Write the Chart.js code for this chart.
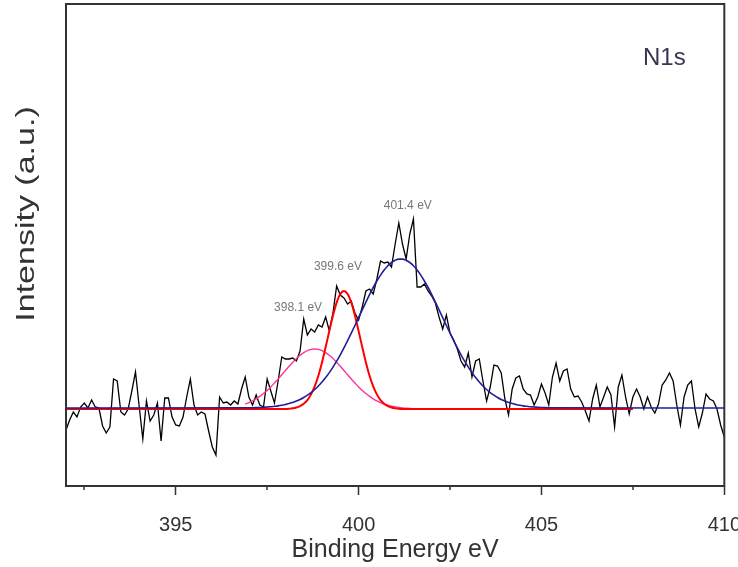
<!DOCTYPE html>
<html>
<head>
<meta charset="utf-8">
<script src="https://cdn.jsdelivr.net/npm/chart.js@4.4.0/dist/chart.umd.min.js"></script>
<style>
  body { margin: 0; background: #fff; width: 738px; height: 567px; overflow: hidden; }
  #wrap { width: 759px; height: 567px; }
</style>
</head>
<body>
<div id="wrap"><canvas id="n1s-chart"></canvas></div>
<script>
// measured N1s spectrum, one value every 0.1 eV from 392.0 to 410.0
var scanStart = 392.0;
var scanStep = 0.1;
var n1sCounts = [
    -21, -11, -3, -8, 2, 6, 1, 9, 2, 1,
    -17, -24, -18, 30, 28, -3, -6, 0, 18, 37,
    3, -30, 8, -12, -6, 6, -32, 11, 11, -8,
    -16, -17, -8, 12, 30, 4, -6, -3, -5, -22,
    -38, -46, 12, 6, 7, 4, 8, 5, 20, 32,
    12, 4, 14, 4, 2, 30, 18, 6, 28, 52,
    50, 50, 51, 48, 58, 90, 74, 80, 77, 84,
    82, 92, 78, 96, 123, 114, 111, 105, 108, 96,
    89, 102, 118, 120, 115, 130, 148, 146, 147, 142,
    165, 186, 165, 150, 175, 190, 122, 122, 125, 118,
    113, 106, 92, 80, 94, 76, 69, 60, 48, 42,
    56, 32, 48, 50, 28, 8, 22, 44, 43, 36,
    10, -6, 20, 31, 33, 20, 15, 14, 4, 12,
    25, 16, 4, 32, 46, 28, 38, 40, 20, 12,
    13, 7, -2, -12, 10, 24, 2, 12, 22, 14,
    -18, 22, 34, 12, -5, 12, 20, 12, 0, 12,
    2, -4, 5, 24, 29, 36, 28, 4, -16, 12,
    24, 28, 0, -18, -4, 15, 10, 8, 0, -16,
    -28
];

// fitted components: flat tail level over [from, to], peak part sampled every 0.1 eV
var peakA = { from: 396.9, to: 407.5, tail: 0, start: 396.9, values: [
    4.9, 6.4, 8.1, 10.2, 12.6, 15.5, 18.6, 22.1, 26.0, 30.0,
    34.3, 38.5, 42.8, 46.7, 50.5, 53.7, 56.4, 58.4, 59.6, 60.0,
    59.6, 58.4, 56.4, 53.7, 50.5, 46.7, 42.8, 38.5, 34.3, 30.0,
    26.0, 22.1, 18.6, 15.5, 12.6, 10.2, 8.1, 6.4, 4.9, 3.8,
    2.8, 2.1, 1.5, 1.1, 0.8, 0.5, 0.3, 0
] };
var peakB = { from: 392.0, to: 407.5, tail: 0, start: 398.0, values: [
    0.1, 0.3, 0.7, 1.5, 2.9, 5.2, 8.9, 14.6, 22.6, 33.3,
    46.6, 61.9, 78.1, 93.5, 106.4, 115.0, 118.0, 115.0, 106.4, 93.5,
    78.1, 61.9, 46.6, 33.3, 22.6, 14.6, 8.9, 5.2, 2.9, 1.5,
    0.7, 0.3, 0.1
] };
var peakC = { from: 392.0, to: 410.0, tail: 1, start: 397.0, values: [
    1.2, 1.3, 1.4, 1.5, 1.7, 2.0, 2.3, 2.7, 3.1, 3.7,
    4.5, 5.4, 6.6, 7.9, 9.5, 11.5, 13.8, 16.4, 19.5, 23.0,
    27.0, 31.4, 36.4, 41.9, 47.8, 54.2, 61.1, 68.3, 75.8, 83.5,
    91.4, 99.2, 106.9, 114.4, 121.5, 128.0, 133.9, 139.0, 143.3, 146.5,
    148.7, 149.9, 149.9, 148.7, 146.5, 143.3, 139.0, 133.9, 128.0, 121.5,
    114.4, 106.9, 99.2, 91.4, 83.5, 75.8, 68.3, 61.1, 54.2, 47.8,
    41.9, 36.4, 31.4, 27.0, 23.0, 19.5, 16.4, 13.8, 11.5, 9.5,
    7.9, 6.6, 5.4, 4.5, 3.7, 3.1, 2.7, 2.3, 2.0, 1.7,
    1.5, 1.4, 1.3, 1.2
] };

var peakPositions = [398.1, 399.6, 401.4];
var majorTicks = [395, 400, 405, 410];
var minorTicks = [392.5, 397.5, 402.5, 407.5];

var fontFamily = "'Liberation Sans', Arial, sans-serif";


function energyAt(start, i) {
    return Math.round((start + i * scanStep) * 10) / 10;
}

function componentPoints(comp) {
    let pts = [];
    if (comp.from < comp.start) pts.push({ x: comp.from, y: comp.tail });
    comp.values.forEach((v, i) => pts.push({ x: energyAt(comp.start, i), y: v }));
    let last = energyAt(comp.start, comp.values.length - 1);
    if (comp.to > last) pts.push({ x: comp.to, y: comp.tail });
    return pts;
}

let spectrum = n1sCounts.map((v, i) => ({ x: energyAt(scanStart, i), y: v }));

// frame, minor ticks, axis titles, spectrum name and peak labels
var decorations = {
    id: "decorations",
    afterDraw(chart, args, opts) {
        let ctx = chart.ctx;
        let a = chart.chartArea;
        let xs = chart.scales.x;
        let ys = chart.scales.y;
        ctx.save();

        ctx.strokeStyle = "#333";
        ctx.lineWidth = 2;
        ctx.strokeRect(a.left, a.top, a.right - a.left, a.bottom - a.top);

        ctx.lineWidth = 1.5;
        minorTicks.forEach(v => {
            let px = Math.round(xs.getPixelForValue(v));
            ctx.beginPath();
            ctx.moveTo(px, a.bottom);
            ctx.lineTo(px, a.bottom + 4);
            ctx.stroke();
        });

        ctx.fillStyle = "#333";
        ctx.textAlign = "center";
        ctx.textBaseline = "middle";
        ctx.font = "25px " + fontFamily;
        ctx.fillText("Binding Energy eV", (a.left + a.right) / 2, 550);

        ctx.save();
        ctx.translate(27, 214);
        ctx.rotate(-Math.PI / 2);
        ctx.scale(1.36, 1);
        ctx.fillText("Intensity (a.u.)", 0, 0);
        ctx.restore();

        ctx.fillStyle = "#3a3550";
        ctx.font = "24px " + fontFamily;
        ctx.fillText("N1s", a.right - 60, a.top + 54);

        ctx.fillStyle = "#777";
        ctx.font = "12px " + fontFamily;
        peakPositions.forEach((e, i) => {
            let lab = opts.labels[i];
            ctx.fillText(e.toFixed(1) + " eV",
                xs.getPixelForValue(e) + lab.dx, ys.getPixelForValue(lab.y));
        });
        ctx.restore();
    }
};

let lineBase = {
    pointRadius: 0,
    fill: false,
    cubicInterpolationMode: "monotone"
};

let chartData = {
    datasets: [
        Object.assign({ label: "401.4", data: componentPoints(peakC), borderColor: "#1f1f99", borderWidth: 1.6 }, lineBase),
        Object.assign({ label: "399.6", data: componentPoints(peakB), borderColor: "#ff0000", borderWidth: 2 }, lineBase),
        Object.assign({ label: "398.1", data: componentPoints(peakA), borderColor: "#ff3399", borderWidth: 1.4 }, lineBase),
        { label: "N1s", data: spectrum, borderColor: "#000", borderWidth: 1.3, pointRadius: 0, tension: 0, fill: false }
    ]
};

let chartOptions = {
    responsive: true,
    maintainAspectRatio: false,
    animation: false,
    layout: { padding: { left: 66, right: 10, top: 4, bottom: 12 } },
    plugins: {
        legend: { display: false },
        tooltip: { enabled: false },
        decorations: {
            labels: [ { dx: 9, y: 101 }, { dx: -6, y: 142 }, { dx: -2, y: 203 } ]
        }
    },
    scales: {
        x: {
            type: "linear",
            min: 392,
            max: 410,
            afterBuildTicks: scale => { scale.ticks = majorTicks.map(v => ({ value: v })); },
            border: { display: false },
            grid: { drawOnChartArea: false, drawTicks: true, tickLength: 9, tickColor: "#333", tickWidth: 1.5 },
            ticks: {
                color: "#333",
                padding: 18,
                maxRotation: 0,
                font: { family: fontFamily, size: 20 }
            }
        },
        y: {
            display: false,
            min: -77,
            max: 405
        }
    }
};

let ctx = document.getElementById("n1s-chart").getContext("2d");
new Chart(ctx, {
    type: "line",
    data: chartData,
    options: chartOptions,
    plugins: [decorations]
});
</script>
</body>
</html>
